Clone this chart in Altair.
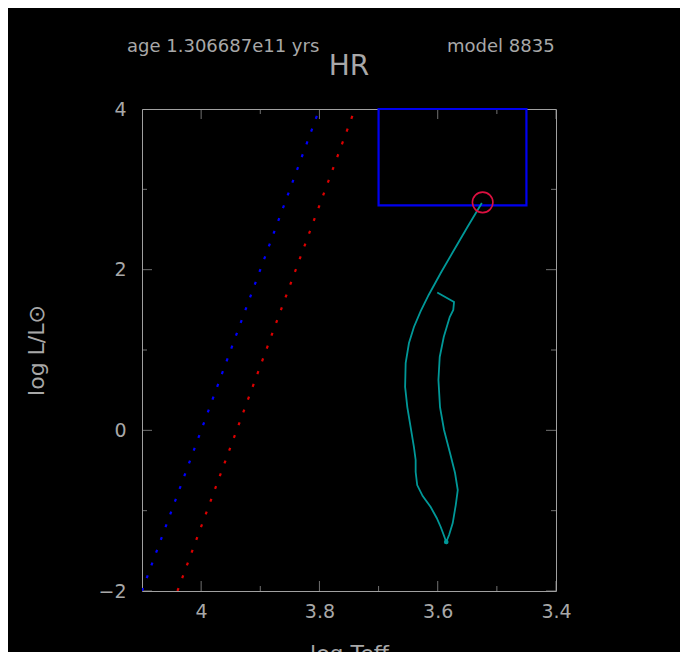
import altair as alt
import pandas as pd

# ---------------- data ----------------
track_T = [3.6008, 3.5724, 3.5737, 3.5797, 3.5898, 3.5966, 3.5988, 3.5961, 3.5893, 3.5792,
           3.5707, 3.5661, 3.5695, 3.5746, 3.5808, 3.5856, 3.5898, 3.5949, 3.6017, 3.6119,
           3.6254, 3.6347, 3.6373, 3.6373, 3.6402, 3.6458, 3.6514, 3.6551, 3.6542, 3.6486,
           3.6402, 3.6288, 3.6153, 3.5949, 3.5724, 3.5497, 3.5254]
track_L = [1.716, 1.597, 1.498, 1.411, 1.162, 0.913, 0.626, 0.290, 0.004, -0.282,
           -0.531, -0.743, -0.930, -1.154, -1.303, -1.390, -1.303, -1.203, -1.091, -0.955,
           -0.818, -0.681, -0.519, -0.369, -0.208, 0.041, 0.290, 0.539, 0.838, 1.087,
           1.286, 1.485, 1.685, 1.958, 2.245, 2.531, 2.830]

zams_T = [3.5856]
zams_L = [-1.390]

current_T = [3.524]
current_L = [2.838]

blue_line_T = [4.10, 3.80]
blue_line_L = [-2.0, 4.0]
red_line_T = [4.04, 3.74]
red_line_L = [-2.0, 4.0]

box_T = [3.70]
box_T2 = [3.45]
box_L = [2.80]
box_L2 = [4.00]

x_major = [4.0, 3.8, 3.6, 3.4]
x_minor = [3.9, 3.7, 3.5]
y_major = [-2, 0, 2, 4]
y_minor = [-1, 1, 3]

x_lo, x_hi = 3.4, 4.1
y_lo, y_hi = -2.0, 4.0

age_text = "age 1.306687e11 yrs"
model_text = "model 8835"
plot_title = "HR"
x_title = "log Teff"
y_title = "log L/L⊙"

# ---------------- styles ----------------
TXT = "#a8a8a8"
FRAME = "#a0a0a0"
FONT = "DejaVu Sans"
TEAL = "#009898"

xscale = alt.Scale(domain=[x_lo, x_hi], reverse=True, nice=False, zero=False)
yscale = alt.Scale(domain=[y_lo, y_hi], nice=False, zero=False)

xaxis = alt.Axis(values=x_major, format="~g", ticks=False, domain=False, grid=False,
                 labelFontSize=19, labelColor=TXT, labelFont=FONT, labelPadding=11,
                 labelFlush=False, title=x_title, titleFont=FONT, titleFontSize=22,
                 titleColor=TXT, titleFontWeight="normal", titleX=207, titleY=69,
                 titleAlign="center", titleBaseline="alphabetic")
yaxis = alt.Axis(values=y_major, format="~g", ticks=False, domain=False, grid=False,
                 labelFontSize=19, labelColor=TXT, labelFont=FONT, labelPadding=16,
                 labelFlush=False, title=y_title, titleFont=FONT, titleFontSize=22,
                 titleColor=TXT, titleFontWeight="normal", titleAngle=270,
                 titleX=-106, titleY=241, titleAlign="center", titleBaseline="middle")

xenc = alt.X("T:Q", scale=xscale, axis=xaxis)
yenc = alt.Y("L:Q", scale=yscale, axis=yaxis)

# ---------------- tables ----------------
rows = []
for v in x_major:
    rows += [{"T": v, "L": y_lo, "s": 20, "o": "v"}, {"T": v, "L": y_hi, "s": 20, "o": "v"}]
for v in x_minor:
    rows += [{"T": v, "L": y_lo, "s": 10, "o": "v"}, {"T": v, "L": y_hi, "s": 10, "o": "v"}]
for v in y_major:
    rows += [{"T": x_hi, "L": v, "s": 20, "o": "h"}, {"T": x_lo, "L": v, "s": 20, "o": "h"}]
for v in y_minor:
    rows += [{"T": x_hi, "L": v, "s": 10, "o": "h"}, {"T": x_lo, "L": v, "s": 10, "o": "h"}]
ticks = pd.DataFrame(rows)

lines = pd.DataFrame({
    "T": blue_line_T + red_line_T,
    "L": blue_line_L + red_line_L,
    "series": ["blue"] * 2 + ["red"] * 2,
})
track = pd.DataFrame({"T": track_T, "L": track_L, "i": list(range(len(track_T)))})
box = pd.DataFrame({"T": box_T, "T2": box_T2, "L": box_L, "L2": box_L2})
zams = pd.DataFrame({"T": zams_T, "L": zams_L})
cur = pd.DataFrame({"T": current_T, "L": current_L})

# ---------------- layers ----------------
vticks = alt.Chart(ticks).transform_filter(alt.datum.o == "v").mark_tick(
    orient="vertical", clip=True, color=FRAME, thickness=1
).encode(x=xenc, y=yenc, size=alt.Size("s:Q", scale=None))
hticks = alt.Chart(ticks).transform_filter(alt.datum.o == "h").mark_tick(
    orient="horizontal", clip=True, color=FRAME, thickness=1
).encode(x=xenc, y=yenc, size=alt.Size("s:Q", scale=None))

dotted = alt.Chart(lines).mark_line(
    clip=True, strokeWidth=2.2, strokeDash=[3, 10.6], strokeCap="butt"
).encode(
    x=xenc, y=yenc,
    color=alt.Color("series:N", scale=alt.Scale(domain=["blue", "red"], range=["#0000ff", "#dd0000"]),
                    legend=None),
    detail="series:N",
)

rect = alt.Chart(box).mark_rect(fill=None, stroke="#0000f0", strokeWidth=2.2).encode(
    x=xenc, x2="T2:Q", y=yenc, y2="L2:Q"
)

track_line = alt.Chart(track).mark_line(color=TEAL, strokeWidth=1.8).encode(
    x=xenc, y=yenc, order="i:Q"
)

zams_pt = alt.Chart(zams).mark_point(filled=True, color=TEAL, size=22, opacity=1).encode(
    x=xenc, y=yenc
)

cur_pt = alt.Chart(cur).mark_point(shape="circle", filled=False, color="#dc1040",
                                   strokeWidth=1.6, size=420, opacity=1).encode(x=xenc, y=yenc)

age_t = alt.Chart(pd.DataFrame({"t": [age_text]})).mark_text(
    align="left", baseline="alphabetic", font=FONT, fontSize=18, color=TXT
).encode(text="t:N", x=alt.value(-15), y=alt.value(-57))
model_t = alt.Chart(pd.DataFrame({"t": [model_text]})).mark_text(
    align="left", baseline="alphabetic", font=FONT, fontSize=18, color=TXT
).encode(text="t:N", x=alt.value(305), y=alt.value(-57))
hr_t = alt.Chart(pd.DataFrame({"t": [plot_title]})).mark_text(
    align="center", baseline="alphabetic", font=FONT, fontSize=28, color=TXT
).encode(text="t:N", x=alt.value(207), y=alt.value(-34))

chart = alt.layer(
    vticks, hticks, dotted, rect, track_line, zams_pt, cur_pt, age_t, model_t, hr_t
).properties(
    width=414, height=482,
    autosize=alt.AutoSizeParams(type="none"),
    padding={"left": 134, "top": 101, "right": 124, "bottom": 61},
    background="black",
).configure_view(
    stroke=FRAME, strokeWidth=1, fill="black"
)

chart.save("out.html", embed_options={"renderer": "svg", "actions": False})
